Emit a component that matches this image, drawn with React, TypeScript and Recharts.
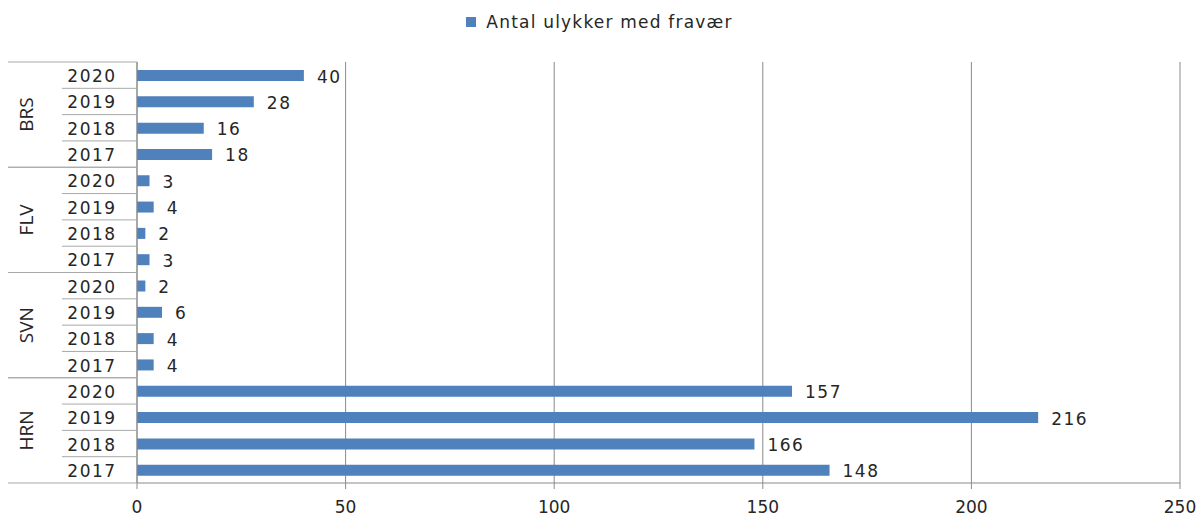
import React from 'react';
import { BarChart, Bar, XAxis, YAxis, CartesianGrid, Legend, LabelList } from 'recharts';

const groups = ['BRS', 'FLV', 'SVN', 'HRN'];
const years = ['2020', '2019', '2018', '2017'];
const brsValues = [40, 28, 16, 18];
const flvValues = [3, 4, 2, 3];
const svnValues = [2, 6, 4, 4];
const hrnValues = [157, 216, 148, 166];
const hrnLabels = [157, 216, 166, 148];
const xTicks = [0, 50, 100, 150, 200, 250];
const seriesName = 'Antal ulykker med fravær';

const groupValues: Record<string, number[]> = { BRS: brsValues, FLV: flvValues, SVN: svnValues, HRN: hrnValues };
const groupLabels: Record<string, number[]> = { BRS: brsValues, FLV: flvValues, SVN: svnValues, HRN: hrnLabels };

const data = groups.flatMap((g) =>
  years.map((y, i) => ({
    key: `${g}-${y}`,
    group: g,
    year: y,
    yearIndex: i,
    value: groupValues[g][i],
    label: groupLabels[g][i],
  }))
);

const W = 1199;
const H = 516;
const M = { top: 62, right: 19, bottom: 0, left: 0 };
const X_AXIS_H = 33;
const Y_AXIS_W = 137;
const BAND = (H - M.top - M.bottom - X_AXIS_H) / data.length;
const COLOR = '#4F81BD';
const GRID = '#8a8a8a';
const SEP = '#a8a8a8';
const FONT = '"DejaVu Sans", Verdana, sans-serif';
const TXT = '#262626';

const YearTick = (props: any) => {
  const { y, index } = props;
  const d = data[index];
  if (!d) return null;
  const top = y - BAND / 2;
  const bottom = y + BAND / 2;
  const axisX = Y_AXIS_W;
  const first = d.yearIndex === 0;
  const last = d.yearIndex === years.length - 1;
  return (
    <g>
      <line x1={first ? 8 : 62} x2={axisX} y1={top} y2={top} stroke={SEP} strokeWidth={1} />
      {last && <line x1={8} x2={axisX} y1={bottom} y2={bottom} stroke={SEP} strokeWidth={1} />}
      <text x={92} y={y + 1} textAnchor="middle" dominantBaseline="central" fontFamily={FONT} fontSize={17} letterSpacing={1.5} fill={TXT}>
        {d.year}
      </text>
      {d.yearIndex === 1 && (
        <text
          x={26}
          y={bottom}
          textAnchor="middle"
          dominantBaseline="central"
          fontFamily={'"Liberation Sans Narrow", "Open Sans", sans-serif'}
          fontSize={19}
          fill={TXT}
          transform={`rotate(-90 26 ${bottom})`}
        >
          {d.group}
        </text>
      )}
    </g>
  );
};

const renderLabel = (props: any) => {
  const { x, y, width, height, index } = props;
  const d = data[index];
  return (
    <text x={x + width + 13} y={y + height / 2 + 1} dominantBaseline="central" fontFamily={FONT} fontSize={17} letterSpacing={1.5} fill={TXT}>
      {d.label}
    </text>
  );
};

const LegendContent = () => (
  <div style={{ display: 'flex', justifyContent: 'center', alignItems: 'center', fontFamily: FONT, fontSize: 17, letterSpacing: 1.2, color: TXT }}>
    <span style={{ display: 'inline-block', width: 10, height: 10, background: COLOR, marginRight: 10 }} />
    <span>{seriesName}</span>
  </div>
);

export default function App() {
  return (
    <div style={{ position: 'absolute', left: 0, top: 0, background: '#fff' }}>
      <BarChart width={W} height={H} data={data} layout="vertical" margin={M} barCategoryGap={0}>
        <CartesianGrid horizontal={false} vertical={true} stroke={GRID} />
        <XAxis
          type="number"
          domain={[0, 250]}
          ticks={xTicks}
          height={X_AXIS_H}
          tickSize={6}
          tickMargin={12}
          stroke={GRID}
          tick={{ fill: TXT, fontSize: 17, fontFamily: FONT }}
          interval={0}
        />
        <YAxis
          type="category"
          dataKey="key"
          width={Y_AXIS_W}
          interval={0}
          tickLine={false}
          stroke={GRID}
          tick={<YearTick />}
        />
        <Legend
          layout="horizontal"
          verticalAlign="middle"
          align="center"
          wrapperStyle={{ top: 12, left: 0, width: W }}
          content={<LegendContent />}
        />
        <Bar dataKey="value" name={seriesName} fill={COLOR} barSize={11} isAnimationActive={false}>
          <LabelList dataKey="label" content={renderLabel} />
        </Bar>
      </BarChart>
    </div>
  );
}
